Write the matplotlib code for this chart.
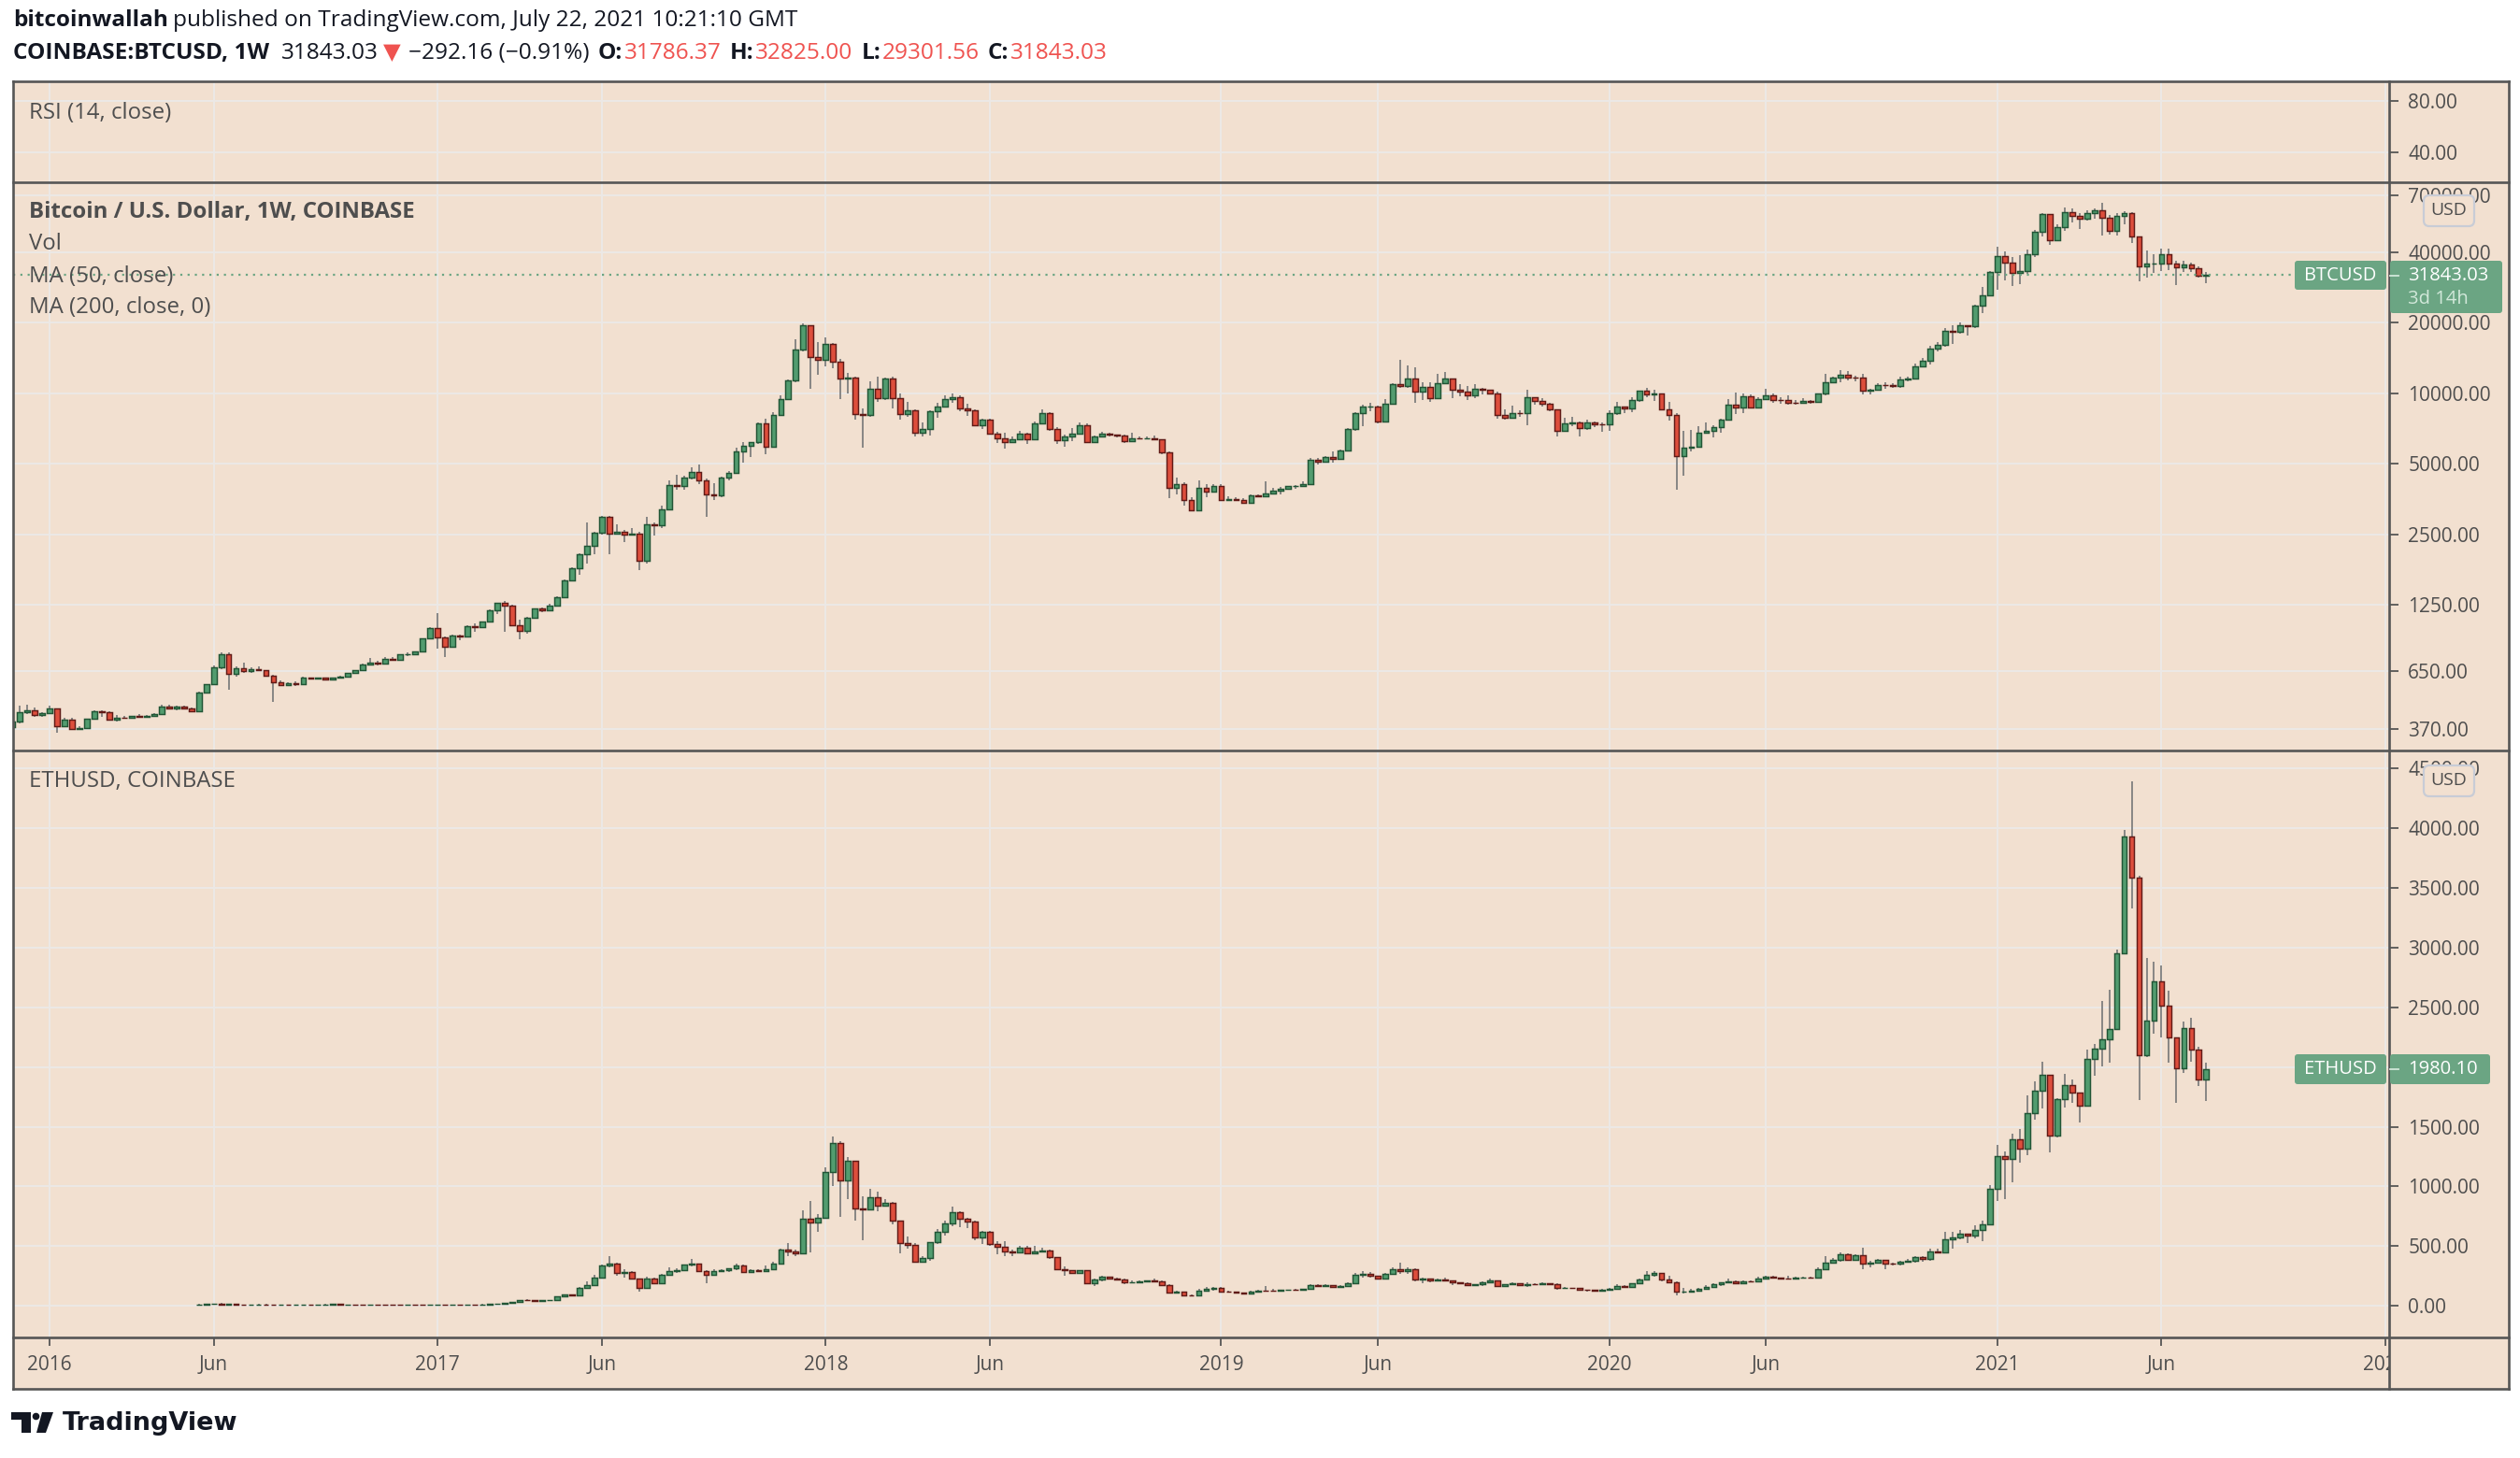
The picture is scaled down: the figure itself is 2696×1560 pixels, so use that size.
import datetime as dt
import numpy as np
import matplotlib
matplotlib.use("Agg")
import matplotlib.pyplot as plt
import matplotlib.dates as mdates
import matplotlib.ticker as mticker
from matplotlib.patches import Rectangle, FancyBboxPatch, Circle, Polygon
from matplotlib.lines import Line2D
from matplotlib.transforms import Affine2D

plt.rcParams['font.family'] = ['Open Sans', 'DejaVu Sans']

# ---------------- data (weekly candles) ----------------
btc_start = dt.date(2015, 11, 30)
btc_first_open = 377.0
btc_close = [
    395, 434, 443, 423, 431,                                            # 2015
    450, 378, 404, 370, 372, 406, 438, 434, 404, 412, 410, 418, 416,
    420, 428, 460, 452, 458, 452, 440, 526, 575, 676, 765, 635, 668,
    650, 665, 655, 624, 585, 570, 580, 575, 610, 607, 609, 600, 610,
    615, 640, 655, 697, 705, 702, 735, 730, 765, 770, 790, 895, 995,    # 2016
    910, 825, 925, 915, 1015, 1000, 1055, 1180, 1270, 1235, 1020, 970, 1100,
    1200, 1180, 1240, 1350, 1580, 1790, 2045, 2220, 2530, 2950, 2510, 2560, 2500,
    2520, 1920, 2750, 2730, 3200, 4050, 4020, 4350, 4600, 4250, 3700, 3650, 4360,
    4580, 5650, 5980, 6150, 7390, 5880, 8050, 9400, 11280, 15300, 19400, 14200, 13800,  # 2017
    16150, 13650, 11500, 11600, 8160, 8040, 10420, 9500, 11500, 9500, 8160, 8420, 6800,
    7000, 8360, 8780, 9390, 9600, 8620, 8450, 7300, 7680, 6720, 6420, 6160, 6350,
    6710, 6350, 7400, 8190, 7000, 6310, 6500, 6710, 7290, 6190, 6500, 6710, 6620,
    6560, 6250, 6400, 6380, 6420, 6350, 5580, 3930, 4100, 3510, 3170, 3930, 3810, 4030,  # 2018
    3510, 3540, 3500, 3410, 3660, 3620, 3720, 3820, 3920, 4000, 4030, 4100,
    5170, 5100, 5330, 5250, 5700, 7000, 8190, 8750, 8770, 7580, 8970, 10900, 10750,
    11500, 10150, 10580, 9530, 11000, 11500, 10300, 10120, 9740,
    10400, 10300, 9980, 8050, 7860, 8230, 8200, 9570, 9220, 8990, 8490, 6900, 7400,
    7520, 7100, 7520, 7380, 7350,                                       # 2019
    8190, 8750, 8590, 9310, 10200, 9890, 9960, 8500, 8040, 5370, 5830, 5900, 6750,
    6890, 7130, 7700, 8890, 8700, 9660, 8700, 9460, 9740, 9350, 9300, 9120, 9070,
    9240, 9170, 9950, 11100, 11640, 11930, 11650, 11600, 10260, 10350, 10840, 10780, 10700,
    11460, 11500, 13030, 13760, 15420, 16000, 18500, 18200, 19400, 19250, 23500, 26200, 32900,  # 2020
    38300, 35950, 32450, 33000, 38970, 48600, 57900, 45000, 50900, 58900, 57100, 55400, 58400,
    60000, 56100, 49000, 57000, 58800, 46500, 34700, 35600, 35800, 39000, 35600, 34400, 35300,
    34200, 31786.37, 31843.03,                                          # 2021
]
btc_high = [
    420, 465, 468, 455, 436,
    462, 450, 412, 410, 378, 408, 445, 445, 440, 425, 420, 419, 428,
    422, 430, 466, 468, 462, 462, 455, 530, 575, 690, 780, 780, 680,
    705, 678, 680, 660, 630, 595, 584, 590, 615, 612, 612, 612, 612,
    620, 642, 660, 700, 740, 720, 745, 750, 770, 780, 792, 895, 1000,
    1150, 915, 930, 930, 1020, 1040, 1058, 1190, 1272, 1300, 1255, 1075, 1110,
    1210, 1220, 1260, 1355, 1600, 1800, 2070, 2795, 2560, 2990, 2990, 2765, 2600,
    2655, 2550, 2950, 2800, 3320, 4230, 4480, 4420, 4800, 4970, 4300, 4120, 4400,
    4630, 5850, 6200, 6200, 7500, 7800, 8300, 9800, 11400, 17000, 19890, 19250, 16500,
    17250, 16300, 14000, 12200, 11800, 8600, 11250, 11800, 11600, 11700, 10000, 9200, 8500,
    7500, 8450, 9050, 9750, 9950, 9750, 9000, 8530, 7780, 7800, 6840, 6800, 6500,
    6880, 6800, 7550, 8480, 8250, 7180, 6620, 7100, 7480, 7410, 6590, 6850, 6800,
    6660, 6650, 6800, 6520, 6550, 6570, 6370, 5660, 4370, 4180, 3580, 4230, 4100, 4070,
    4100, 3640, 3600, 3550, 3710, 3700, 4200, 3930, 3960, 4020, 4050, 4200,
    5300, 5300, 5360, 5610, 5750, 7100, 8290, 8940, 9100, 8840, 9390, 11000, 13880,
    13150, 12920, 11100, 11100, 12100, 12330, 11500, 10940, 10670,
    10900, 10500, 10330, 10100, 8540, 8800, 8450, 10350, 9500, 9500, 9080, 8540, 7850,
    7890, 7560, 7700, 7570, 7520,
    8460, 9190, 8750, 9560, 10170, 10500, 10290, 9980, 9180, 8200, 6880, 6960, 7210,
    7470, 7300, 7800, 9460, 10080, 9950, 9840, 9580, 10410, 9990, 9600, 9790, 9320,
    9480, 9340, 10000, 12100, 11800, 12480, 12430, 11850, 12090, 10410, 11050, 11160, 10970,
    11720, 11720, 13360, 14100, 15960, 16480, 18930, 19490, 19920, 19420, 23770, 28300, 33300,
    42050, 40150, 37880, 38580, 40900, 49700, 58350, 57500, 52400, 61790, 61090, 58420, 60000,
    61220, 64900, 57460, 58460, 59600, 59000, 45000, 40500, 39200, 41300, 41280, 36600, 36600,
    35950, 34600, 32825.00,
]
btc_low = [
    360, 388, 428, 415, 417,
    428, 355, 378, 365, 365, 372, 404, 415, 400, 398, 407, 408, 412,
    415, 418, 426, 446, 442, 448, 438, 436, 522, 570, 666, 540, 615,
    640, 640, 650, 620, 480, 560, 565, 565, 572, 600, 600, 595, 598,
    605, 615, 636, 655, 686, 690, 700, 725, 728, 752, 768, 790, 890,
    810, 750, 820, 885, 910, 955, 990, 1048, 1140, 960, 1020, 890, 940,
    1090, 1160, 1180, 1240, 1340, 1570, 1680, 1877, 2060, 2480, 2047, 2480, 2320,
    2490, 1756, 1870, 2470, 2650, 3170, 3850, 3870, 4280, 4100, 2970, 3500, 3600,
    4230, 4600, 5050, 5350, 6050, 5486, 6900, 8000, 9350, 11100, 15000, 10400, 12000,
    13000, 12750, 9400, 10000, 7700, 5860, 7880, 9200, 9300, 8600, 7700, 7900, 6500,
    6500, 6600, 7850, 8700, 9070, 8350, 8000, 7230, 7030, 6630, 6100, 5780, 6260,
    6400, 6090, 6340, 7380, 6880, 6090, 5880, 6260, 6690, 6120, 6190, 6500, 6500,
    6460, 6130, 6360, 6350, 6350, 6350, 5500, 3560, 3700, 3300, 3130, 3170, 3590, 3810,
    3480, 3480, 3480, 3360, 3360, 3600, 3690, 3720, 3710, 3850, 3910, 3990,
    4090, 4950, 5050, 5050, 5200, 5720, 6900, 7220, 8350, 7440, 7560, 8960, 10500,
    10550, 9070, 9350, 9150, 9400, 10950, 9500, 9700, 9320,
    9550, 9880, 9830, 7780, 7720, 7780, 7900, 7300, 8950, 8760, 8380, 6520, 6850,
    7230, 6500, 6950, 7170, 6850,
    6870, 8070, 8230, 8290, 9150, 9630, 9280, 8470, 7630, 3860, 4440, 5660, 5860,
    6700, 6480, 6760, 7610, 8120, 8220, 8640, 8690, 9400, 9120, 9010, 8910, 8900,
    9000, 9000, 9110, 9810, 11080, 11150, 11350, 11240, 9880, 9890, 10200, 10380, 10550,
    10530, 11180, 11410, 12970, 13200, 15100, 15800, 16200, 18000, 17600, 18900, 22000, 26000,
    27700, 30250, 28750, 29100, 32300, 37990, 46500, 43020, 44950, 49350, 53300, 50310, 54400,
    55450, 47000, 47460, 47060, 52400, 43850, 30000, 31100, 32400, 33300, 33350, 28800, 32700,
    32700, 31050, 29301.56,
]

eth_start = dt.date(2016, 5, 23)
eth_first_open = 12.4
eth_close = [
    12.8, 13.9, 15.6, 12.2, 13.8, 12.3, 11.0, 11.8, 12.6, 12.3, 10.8, 11.3, 11.0, 11.2,
    12.0, 11.9, 12.7, 12.9, 13.3, 11.9, 11.9, 11.2, 10.9, 11.0, 10.2, 9.8, 8.3, 7.7,
    8.2, 7.6, 7.2, 8.1,                                                 # 2016
    10.2, 9.9, 10.7, 10.6, 11.4, 11.3, 12.8, 15.0, 19.5, 21.5, 34, 50, 49,
    44, 48, 48.5, 79, 95, 88, 148, 175, 239, 338, 352, 273, 283,
    231, 150, 226, 192, 260, 291, 299, 344, 352, 291, 257, 291, 299,
    315, 338, 286, 297, 292, 310, 354, 474, 458, 442, 730, 696, 735,    # 2017
    1121, 1361, 1048, 1217, 818, 805, 907, 837, 863, 716, 529, 513, 370,
    403, 531, 620, 688, 782, 727, 709, 571, 622, 518, 492, 453, 448,
    485, 440, 455, 465, 405, 309, 297, 275, 295, 192, 223, 244, 232,
    220, 195, 200, 205, 210, 207, 172, 109, 115, 85, 84, 125, 140, 150, # 2018
    122, 117, 112, 104, 120, 130, 128, 127, 132, 136, 134, 141,
    170, 163, 170, 156, 162, 190, 258, 268, 250, 230, 268, 307, 290,
    305, 220, 226, 212, 222, 210, 195, 187, 172,
    180, 200, 211, 167, 180, 188, 173, 183, 182, 188, 184, 147, 151,
    148, 133, 132, 128, 135,                                            # 2019
    146, 167, 160, 189, 223, 260, 274, 218, 200, 120, 121, 125, 143,
    158, 179, 194, 208, 188, 206, 205, 231, 241, 233, 229, 225, 240,
    240, 236, 303, 363, 381, 432, 388, 423, 351, 365, 385, 355, 350,
    368, 377, 405, 390, 453, 447, 555, 576, 603, 585, 633, 681, 977,    # 2020
    1253, 1230, 1394, 1313, 1613, 1801, 1933, 1424, 1732, 1846, 1783, 1679, 2071,
    2152, 2236, 2320, 2953, 3929, 3584, 2098, 2390, 2715, 2511, 2248, 1987, 2323,
    2146, 1894, 1980.10,                                                # 2021
]
eth_high = [
    13.4, 14.5, 16.3, 21.5, 14.8, 14.2, 12.4, 12.4, 14.9, 13.9, 12.4, 12.3, 11.4, 11.6,
    12.3, 12.3, 12.9, 13.7, 13.5, 13.4, 12.3, 12.3, 11.4, 11.2, 11.3, 10.3, 9.9, 8.6,
    8.7, 8.3, 7.9, 8.3,
    11.8, 10.8, 11.3, 10.8, 11.7, 11.6, 13.2, 15.6, 20.0, 22.8, 34.9, 52, 54,
    50, 50, 50, 81, 99, 96, 156, 204, 256, 345, 417, 365, 307,
    288, 231, 245, 235, 265, 320, 312, 346, 395, 350, 301, 304, 310,
    318, 355, 348, 310, 310, 335, 372, 480, 524, 470, 800, 876, 770,
    1160, 1419, 1380, 1245, 1217, 915, 978, 953, 890, 870, 716, 584, 528,
    420, 535, 640, 710, 831, 792, 740, 716, 630, 626, 540, 545, 470,
    502, 500, 500, 485, 470, 412, 330, 295, 302, 295, 230, 250, 245,
    235, 230, 213, 210, 215, 225, 215, 182, 125, 118, 95, 139, 157, 160,
    155, 129, 122, 113, 124, 137, 166, 139, 138, 138, 142, 143,
    185, 185, 179, 175, 172, 200, 275, 288, 285, 250, 276, 320, 362,
    320, 315, 240, 232, 232, 237, 213, 200, 194,
    183, 206, 225, 214, 185, 200, 190, 198, 192, 196, 191, 187, 158,
    152, 150, 136, 136, 146,
    148, 180, 176, 190, 225, 290, 288, 278, 253, 201, 153, 146, 150,
    176, 186, 200, 227, 216, 216, 215, 247, 252, 250, 240, 248, 245,
    246, 241, 324, 420, 400, 446, 442, 433, 489, 380, 396, 382, 365,
    378, 392, 420, 415, 475, 482, 620, 622, 633, 600, 675, 714, 1013,
    1349, 1293, 1442, 1484, 1763, 1879, 2044, 1933, 1740, 1943, 1894, 1783, 2143,
    2191, 2551, 2646, 2988, 3990, 4390, 3600, 2910, 2886, 2850, 2640, 2250, 2385,
    2413, 2167, 2038,
]
eth_low = [
    12.1, 12.7, 13.8, 10.0, 11.5, 11.9, 10.2, 10.5, 11.4, 11.4, 8.3, 10.6, 10.6, 10.8,
    11.0, 11.4, 11.8, 12.6, 12.7, 11.7, 11.6, 11.0, 10.7, 10.1, 9.8, 9.4, 8.0, 7.5,
    7.6, 7.5, 7.0, 7.1,
    8.0, 9.5, 9.9, 10.4, 10.5, 10.9, 11.2, 12.6, 14.9, 17.0, 21.5, 33, 46,
    41, 44, 46, 48, 74, 83, 88, 146, 170, 240, 325, 250, 235,
    226, 122, 150, 190, 195, 258, 275, 290, 331, 285, 192, 253, 285,
    285, 300, 285, 280, 285, 290, 303, 354, 419, 418, 441, 448, 620,
    735, 1005, 748, 896, 716, 552, 805, 795, 832, 680, 442, 475, 360,
    365, 380, 516, 592, 663, 656, 650, 550, 517, 505, 431, 420, 418,
    446, 430, 445, 456, 390, 300, 250, 266, 266, 185, 167, 202, 225,
    213, 185, 196, 198, 194, 198, 168, 102, 104, 82, 82, 84, 123, 128,
    117, 114, 110, 102, 103, 118, 127, 125, 126, 128, 132, 131,
    140, 158, 159, 149, 154, 158, 185, 236, 235, 220, 227, 262, 270,
    268, 203, 190, 200, 207, 205, 173, 178, 165,
    166, 169, 196, 155, 162, 175, 168, 155, 176, 180, 176, 138, 140,
    144, 128, 117, 125, 125,
    132, 143, 156, 157, 186, 220, 245, 208, 196, 90, 103, 118, 124,
    140, 149, 168, 192, 180, 180, 196, 197, 225, 228, 222, 218, 222,
    235, 226, 230, 300, 355, 367, 378, 375, 310, 326, 358, 306, 335,
    340, 363, 365, 372, 380, 440, 443, 480, 559, 526, 564, 543, 680,
    882, 894, 1037, 1202, 1262, 1559, 1657, 1289, 1409, 1664, 1703, 1538, 1675,
    1927, 2002, 2038, 2310, 2950, 3330, 1726, 2080, 2280, 2250, 2038, 1700, 1951,
    2045, 1843, 1717,
]

time_ticks = [dt.date(2016, 1, 4), dt.date(2016, 6, 6), dt.date(2017, 1, 2), dt.date(2017, 6, 5),
              dt.date(2018, 1, 1), dt.date(2018, 6, 4), dt.date(2019, 1, 7), dt.date(2019, 6, 3),
              dt.date(2020, 1, 6), dt.date(2020, 6, 1), dt.date(2021, 1, 4), dt.date(2021, 6, 7),
              dt.date(2022, 1, 3)]
time_labels = ["2016", "Jun", "2017", "Jun", "2018", "Jun", "2019", "Jun",
               "2020", "Jun", "2021", "Jun", "2022"]
rsi_ticks = [40, 80]
btc_ticks = [370, 650, 1250, 2500, 5000, 10000, 20000, 40000, 70000]
eth_ticks = [0, 500, 1000, 1500, 2000, 2500, 3000, 3500, 4000, 4500]

# ---------------- style ----------------
BG = "#F2E0D0"
GRID = "#ECE8E5"
FRAME = "#565656"
TXT = "#4E4E4E"
HEAD = "#131722"
RED = "#EF5350"
UP_FACE, UP_EDGE = "#529C6F", "#215535"
DN_FACE, DN_EDGE = "#DD4E3C", "#601A16"
WICK = "#7B7B7B"
TAG = "#6BA583"

W, H = 2696, 1560
L, R, RR = 14, 2556, 2684          # frame left, price-axis border, frame right
T0, T1, T2, T3, T4 = 87, 195, 803, 1431, 1486

fig = plt.figure(figsize=(W / 100, H / 100), dpi=100, facecolor="white")
PX = Affine2D().scale(1 / W, -1 / H).translate(0, 1) + fig.transFigure


def ptext(x, y, s, **kw):
    kw.setdefault("va", "center")
    return fig.text(x, y, s, transform=PX, **kw)


fig.add_artist(Rectangle((L, T0), RR - L, T4 - T0, transform=PX, color=BG, zorder=-1))

xlo = mdates.date2num(dt.datetime(2015, 11, 30, 20))
xhi = mdates.date2num(dt.datetime(2022, 1, 6, 12))
tick_nums = mdates.date2num(time_ticks)


def pane(top, bottom):
    ax = fig.add_axes([L / W, 1 - bottom / H, (R - L) / W, (bottom - top) / H])
    ax.set_facecolor("none")
    for s in ax.spines.values():
        s.set_visible(False)
    ax.set_xlim(xlo, xhi)
    return ax


def price_axis(ax, ticks):
    ax.yaxis.tick_right()
    ax.yaxis.set_major_locator(mticker.FixedLocator(ticks))
    ax.yaxis.set_major_formatter(mticker.FuncFormatter(lambda v, p: f"{v:.2f}"))
    ax.yaxis.set_minor_locator(mticker.NullLocator())
    ax.yaxis.set_minor_formatter(mticker.NullFormatter())
    ax.tick_params(axis="y", which="major", right=True, left=False, direction="out",
                   length=7.5, width=1.3, color=FRAME, pad=7, labelsize=15, labelcolor=TXT)
    ax.set_xticks(tick_nums)
    ax.tick_params(axis="x", length=0, labelbottom=False)
    ax.grid(True, color=GRID, lw=1.5)
    ax.set_axisbelow(True)


def candles(ax, start, first_open, closes, highs, lows):
    c = np.asarray(closes, float)
    o = np.r_[first_open, c[:-1]]
    hi_b, lo_b = np.maximum(o, c), np.minimum(o, c)
    h = np.maximum(np.asarray(highs, float), hi_b)
    lw_ = np.minimum(np.asarray(lows, float), lo_b)
    x = mdates.date2num([start + dt.timedelta(weeks=i) for i in range(len(c))])
    ax.vlines(x, lw_, h, color=WICK, lw=1.25, zorder=2)
    up = c >= o
    for m, face, edge in ((up, UP_FACE, UP_EDGE), (~up, DN_FACE, DN_EDGE)):
        ax.bar(x[m], hi_b[m] - lo_b[m], bottom=lo_b[m], width=5.1, color=face,
               edgecolor=edge, linewidth=1.05, zorder=3)


ax_rsi = pane(T0, T1)
ax_rsi.set_ylim(17, 94.8)
price_axis(ax_rsi, rsi_ticks)

ax_btc = pane(T1, T2)
ax_btc.set_yscale("log")
ax_btc.set_ylim(298.5, 79300)
price_axis(ax_btc, btc_ticks)
candles(ax_btc, btc_start, btc_first_open, btc_close, btc_high, btc_low)
ax_btc.axhline(btc_close[-1], xmin=0, xmax=(2454 - L) / (R - L), color=TAG,
               lw=1.6, ls=(0, (1, 2.5)), zorder=4)

ax_eth = pane(T2, T3)
ax_eth.set_ylim(-265, 4652)
price_axis(ax_eth, eth_ticks)
candles(ax_eth, eth_start, eth_first_open, eth_close, eth_high, eth_low)

ax_time = pane(T3, T4)
ax_time.set_ylim(0, 1)
ax_time.set_xticks([])
ax_time.set_yticks([])
ax_time.vlines(tick_nums, 1 - 9 / 55, 1, color=FRAME, lw=1.3)
for tx, lab in zip(tick_nums, time_labels):
    ax_time.text(tx, 0.47, lab, ha="center", va="center", fontsize=15, color=TXT, clip_on=True)

# frame
for (x0, y0, x1, y1) in [(L, T0, RR, T0), (L, T4, RR, T4), (L, T0, L, T4), (RR, T0, RR, T4),
                         (L, T1, RR, T1), (L, T2, RR, T2), (L, T3, RR, T3), (R, T0, R, T4)]:
    fig.add_artist(Line2D([x0, x1], [y0, y1], transform=PX, color=FRAME, lw=1.9, zorder=5))


# price tags
def tag_box(x0, y0, x1, y1):
    fig.add_artist(FancyBboxPatch((x0, y0), x1 - x0, y1 - y0, transform=PX,
                                  boxstyle="round,pad=0,rounding_size=3",
                                  fc=TAG, ec="none", zorder=6))


tag_box(2455, 279, 2553, 310)
tag_box(2557, 279, 2677, 335)
ptext(2504, 294.5, "BTCUSD", ha="center", color="white", fontsize=14.5, zorder=7)
ptext(2576, 294.5, f"{btc_close[-1]:.2f}", color="white", fontsize=14.5, zorder=7)
ptext(2576, 320, "3d 14h", color="#D2E8DA", fontsize=14.5, zorder=7)
fig.add_artist(Line2D([2557, 2566], [294.5, 294.5], transform=PX, color="#D2E8DA", lw=1.3, zorder=7))

tag_box(2455, 1128, 2553, 1160)
tag_box(2557, 1128, 2664, 1160)
ptext(2504, 1144, "ETHUSD", ha="center", color="white", fontsize=14.5, zorder=7)
ptext(2576, 1144, f"{eth_close[-1]:.2f}", color="white", fontsize=14.5, zorder=7)
fig.add_artist(Line2D([2557, 2566], [1144, 1144], transform=PX, color="#D2E8DA", lw=1.3, zorder=7))

for y0 in (209, 819):
    fig.add_artist(FancyBboxPatch((2593, y0), 54, 33, transform=PX,
                                  boxstyle="round,pad=0,rounding_size=6",
                                  fc=BG, ec="#C8CCD6", lw=1.6, zorder=6))
    ptext(2620, y0 + 16.5, "USD", ha="center", color=TXT, fontsize=14, zorder=7)

# pane legends
LEG = 17.3
ptext(31, 121, "RSI (14, close)", color=TXT, fontsize=LEG)
ptext(31, 227, "Bitcoin / U.S. Dollar, 1W, COINBASE", color=TXT, fontsize=LEG, fontweight="bold")
ptext(31, 261, "Vol", color=TXT, fontsize=LEG)
ptext(31, 296, "MA (50, close)", color=TXT, fontsize=LEG)
ptext(31, 329, "MA (200, close, 0)", color=TXT, fontsize=LEG)
ptext(31, 836, "ETHUSD, COINBASE", color=TXT, fontsize=LEG)

# header
renderer = fig.canvas.get_renderer()


def chain(x, y, parts, size):
    for s, color, weight, gap in parts:
        t = ptext(x + gap, y, s, color=color, fontweight=weight, fontsize=size)
        x = t.get_window_extent(renderer).x1


chain(14, 22, [("bitcoinwallah", HEAD, "bold", 0),
               ("published on TradingView.com, July 22, 2021 10:21:10 GMT", HEAD, "normal", 5)], 17.6)
chain(14, 57, [("COINBASE:BTCUSD, 1W", HEAD, "bold", 0),
               (f"{btc_close[-1]:.2f}", HEAD, "normal", 13),
               ("▼", RED, "normal", 5),
               ("−292.16 (−0.91%)", HEAD, "normal", 8),
               ("O:", HEAD, "bold", 9), ("31786.37", RED, "normal", 2),
               ("H:", HEAD, "bold", 9), (f"{btc_high[-1]:.2f}", RED, "normal", 2),
               ("L:", HEAD, "bold", 9), (f"{btc_low[-1]:.2f}", RED, "normal", 2),
               ("C:", HEAD, "bold", 9), (f"{btc_close[-1]:.2f}", RED, "normal", 2)], 17.6)

# TradingView logo
fig.add_artist(Polygon([(12, 1511), (33, 1511), (33, 1533), (23, 1533), (23, 1519), (12, 1519)],
                       closed=True, transform=PX, fc=HEAD, ec="none"))
fig.add_artist(Circle((38.5, 1515.5), 3.8, transform=PX, fc=HEAD, ec="none"))
fig.add_artist(Polygon([(45, 1511), (57, 1511), (49, 1533), (39, 1533)], closed=True,
                       transform=PX, fc=HEAD, ec="none"))
ptext(67, 1523, "TradingView", color=HEAD, fontsize=19.5, fontweight="bold",
      family=["DejaVu Sans"])

fig.savefig("out.png", dpi=100, facecolor="white")
